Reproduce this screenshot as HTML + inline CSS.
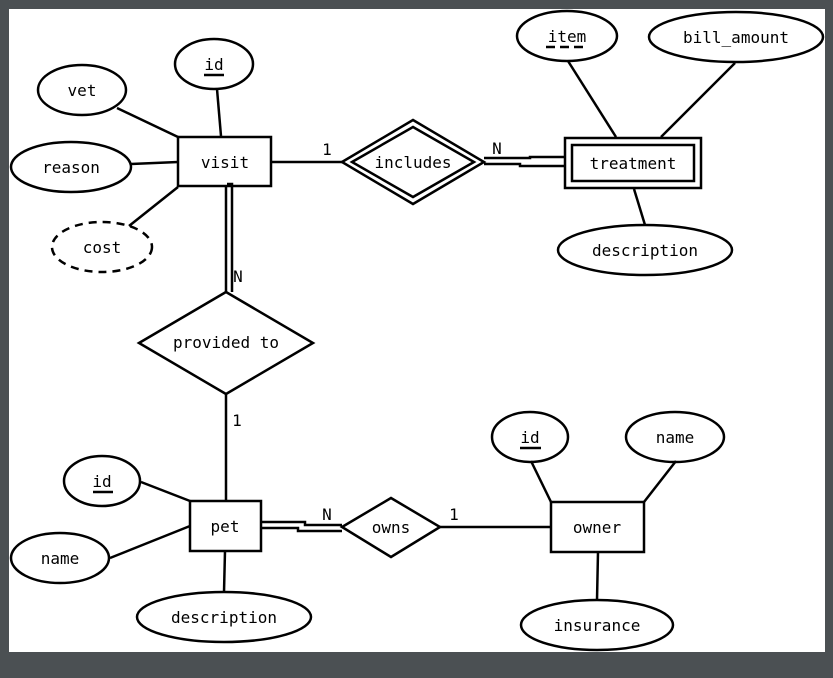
<!DOCTYPE html>
<html><head><style>
html,body{margin:0;padding:0;background:#4b5053;width:833px;height:678px;overflow:hidden}
svg{display:block}
text{font-family:"DejaVu Sans Mono","Liberation Mono",monospace;font-size:16px;fill:#000}
</style></head><body>
<svg width="833" height="678" viewBox="0 0 833 678" xmlns="http://www.w3.org/2000/svg">
<rect x="9" y="9" width="816" height="643" fill="#fff"/>
<g stroke="#000" stroke-width="2.5" fill="none">
<!-- visit attrs -->
<ellipse cx="214" cy="64" rx="39" ry="25"/>
<ellipse cx="82" cy="90" rx="44" ry="25"/>
<ellipse cx="71" cy="167" rx="60" ry="25"/>
<ellipse cx="102" cy="247" rx="50" ry="25" stroke-dasharray="8,6"/>
<line x1="117" y1="108" x2="178" y2="137"/>
<line x1="217" y1="89" x2="221" y2="136"/>
<line x1="131" y1="164" x2="178" y2="162"/>
<line x1="129" y1="226" x2="178" y2="187"/>
<rect x="178" y="137" width="93" height="49"/>
<line x1="271" y1="162" x2="342" y2="162"/>
<polygon points="342,162 413,120 484,162 413,204"/>
<polygon points="352,162 413,127 474,162 413,197"/>
<polyline points="484,158 530,158 530,157 565,157"/>
<polyline points="484,164 520,164 520,166 565,166"/>
<rect x="565" y="138" width="136" height="50"/>
<rect x="572" y="145" width="122" height="36"/>
<ellipse cx="567" cy="36" rx="50" ry="25"/>
<ellipse cx="736" cy="37" rx="87" ry="25"/>
<ellipse cx="645" cy="250" rx="87" ry="25"/>
<line x1="568" y1="61" x2="616" y2="137"/>
<line x1="735" y1="63" x2="661" y2="137"/>
<line x1="634" y1="189" x2="645" y2="225"/>
<polyline points="226,292 226,186"/>
<polyline points="232,292 232,184 227,184"/>
<polygon points="139,343 226,292 313,343 226,394"/>
<line x1="226" y1="394" x2="226" y2="500"/>
<rect x="190" y="501" width="71" height="50"/>
<ellipse cx="102" cy="481" rx="38" ry="25"/>
<ellipse cx="60" cy="558" rx="49" ry="25"/>
<ellipse cx="224" cy="617" rx="87" ry="25"/>
<line x1="141" y1="482" x2="190" y2="501"/>
<line x1="110" y1="558" x2="190" y2="526"/>
<line x1="225" y1="551" x2="224" y2="592"/>
<polyline points="261,522 305,522 305,525 342,525"/>
<polyline points="261,528 298,528 298,531 342,531"/>
<polygon points="342,527 391,498 440,527 391,557"/>
<line x1="440" y1="527" x2="551" y2="527"/>
<rect x="551" y="502" width="93" height="50"/>
<ellipse cx="530" cy="437" rx="38" ry="25"/>
<ellipse cx="675" cy="437" rx="49" ry="25"/>
<ellipse cx="597" cy="625" rx="76" ry="25"/>
<line x1="531" y1="461" x2="551" y2="502"/>
<line x1="676" y1="461" x2="644" y2="502"/>
<line x1="598" y1="552" x2="597" y2="600"/>
<line x1="204" y1="75" x2="224" y2="75"/>
<line x1="546" y1="47" x2="588" y2="47" stroke-dasharray="9,5"/>
<line x1="93" y1="492" x2="113" y2="492"/>
<line x1="520" y1="448" x2="541" y2="448"/>
</g>
<g text-anchor="middle">
<text x="214" y="70">id</text>
<text x="82" y="96">vet</text>
<text x="71" y="173">reason</text>
<text x="102" y="253">cost</text>
<text x="225" y="168">visit</text>
<text x="413" y="168">includes</text>
<text x="633" y="169">treatment</text>
<text x="567" y="42">item</text>
<text x="736" y="43">bill_amount</text>
<text x="645" y="256">description</text>
<text x="226" y="348">provided to</text>
<text x="225" y="532">pet</text>
<text x="102" y="487">id</text>
<text x="60" y="564">name</text>
<text x="224" y="623">description</text>
<text x="391" y="533">owns</text>
<text x="597" y="533">owner</text>
<text x="530" y="443">id</text>
<text x="675" y="443">name</text>
<text x="597" y="631">insurance</text>
<text x="327" y="155">1</text>
<text x="497" y="154">N</text>
<text x="238" y="282">N</text>
<text x="237" y="426">1</text>
<text x="327" y="520">N</text>
<text x="454" y="520">1</text>
</g>
</svg>
</body></html>
